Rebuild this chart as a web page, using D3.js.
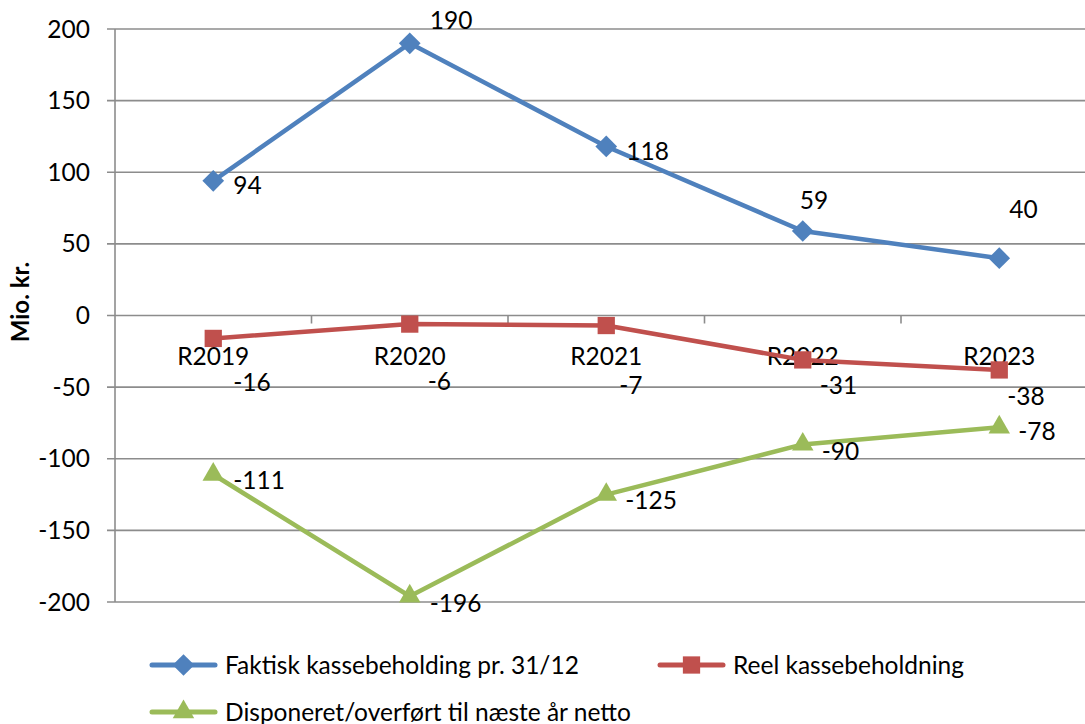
<!DOCTYPE html>
<html>
<head>
<meta charset="utf-8">
<script src="https://cdn.jsdelivr.net/npm/d3@7"></script>
<style>
  body { margin: 0; background: #fff; }
  svg { display: block; font-family: Lato, "Open Sans", sans-serif; }
</style>
</head>
<body>
<div class="container"></div>
<script>
const categories = ['R2019', 'R2020', 'R2021', 'R2022', 'R2023'];
const faktisk = [94, 190, 118, 59, 40];
const reel = [-16, -6, -7, -31, -38];
const disponeret = [-111, -196, -125, -90, -78];
const yTicks = [200, 150, 100, 50, 0, -50, -100, -150, -200];

const width = 1085,
    height = 724,
    fontSize = 24.5;

// manual label nudges, as placed in the original chart (dx to text start, dy to baseline)
const labelNudge = {
    faktisk: [[20, 13], [20, -14], [20, 14], [-3, -22], [10, -40]],
    reel: [[20, 53], [18, 66], [13, 68], [17, 34], [8, 35]],
    disponeret: [[20, 14], [20, 16], [19, 14], [19, 16], [19, 13]]
};

const series = [
    { key: 'faktisk', name: 'Faktisk kassebeholding pr. 31/12', values: faktisk, color: '#4f81bd', symbol: d3.symbolDiamond2, size: 300 },
    { key: 'reel', name: 'Reel kassebeholdning', values: reel, color: '#c0504d', symbol: d3.symbolSquare2, size: 380 },
    { key: 'disponeret', name: 'Disponeret/overført til næste år netto', values: disponeret, color: '#9bbb59', symbol: d3.symbolTriangle2, size: 330 }
];

const x = d3.scaleBand().domain(categories).range([115, 1097.5]);
const y = d3.scaleLinear().domain([-200, 200]).range([602, 29]);
const cx = d => x(d) + x.bandwidth() / 2;

const svg = d3.select('.container')
    .append('svg')
    .attr('width', width)
    .attr('height', height);

// horizontal gridlines
svg.append('g')
    .selectAll('line')
    .data(yTicks)
    .enter()
    .append('line')
    .attr('x1', 107)
    .attr('x2', width)
    .attr('y1', d => y(d))
    .attr('y2', d => y(d))
    .attr('stroke', '#8c8c8c')
    .attr('stroke-width', 1.6);

// y axis line
svg.append('line')
    .attr('x1', 115).attr('x2', 115)
    .attr('y1', y(200)).attr('y2', y(-200))
    .attr('stroke', '#8c8c8c')
    .attr('stroke-width', 1.6);

// y tick labels
svg.append('g')
    .selectAll('text')
    .data(yTicks)
    .enter()
    .append('text')
    .attr('x', 90)
    .attr('y', d => y(d) + 8.5)
    .attr('text-anchor', 'end')
    .attr('font-size', fontSize)
    .attr('fill', '#000')
    .text(d => d);

// x tick marks at category boundaries on the zero line
svg.append('g')
    .selectAll('line')
    .data(categories.slice(1))
    .enter()
    .append('line')
    .attr('x1', d => x(d)).attr('x2', d => x(d))
    .attr('y1', y(0)).attr('y2', y(0) + 8)
    .attr('stroke', '#8c8c8c')
    .attr('stroke-width', 1.6);

// category labels
svg.append('g')
    .selectAll('text')
    .data(categories)
    .enter()
    .append('text')
    .attr('x', d => cx(d))
    .attr('y', 365)
    .attr('text-anchor', 'middle')
    .attr('font-size', fontSize)
    .text(d => d);

// y axis title
svg.append('text')
    .attr('transform', 'translate(29, 302) rotate(-90)')
    .attr('text-anchor', 'middle')
    .attr('font-size', 24)
    .attr('font-weight', 'bold')
    .text('Mio. kr.');

const line = d3.line()
    .x((d, i) => cx(categories[i]))
    .y(d => y(d));

series.forEach(s => {
    const g = svg.append('g');

    g.append('path')
        .datum(s.values)
        .attr('d', line)
        .attr('fill', 'none')
        .attr('stroke', s.color)
        .attr('stroke-width', 4.5)
        .attr('stroke-linejoin', 'round');

    g.selectAll('path.marker')
        .data(s.values)
        .enter()
        .append('path')
        .attr('class', 'marker')
        .attr('transform', (d, i) => `translate(${cx(categories[i])}, ${y(d)})`)
        .attr('d', d3.symbol().type(s.symbol).size(s.size))
        .attr('fill', s.color);

    g.selectAll('text')
        .data(s.values)
        .enter()
        .append('text')
        .attr('x', (d, i) => cx(categories[i]) + labelNudge[s.key][i][0])
        .attr('y', (d, i) => y(d) + labelNudge[s.key][i][1])
        .attr('font-size', fontSize)
        .text(d => d);
});

// legend
const legendPos = [[152, 665], [660, 665], [152, 712]];
series.forEach((s, i) => {
    const [lx, ly] = legendPos[i];
    const g = svg.append('g').attr('transform', `translate(${lx}, ${ly})`);
    g.append('line')
        .attr('x1', 0).attr('x2', 63)
        .attr('y1', 0).attr('y2', 0)
        .attr('stroke', s.color)
        .attr('stroke-width', 5)
        .attr('stroke-linecap', 'round');
    g.append('path')
        .attr('transform', 'translate(31.5, 0)')
        .attr('d', d3.symbol().type(s.symbol).size(s.size))
        .attr('fill', s.color);
    g.append('text')
        .attr('x', 73)
        .attr('y', 8.5)
        .attr('font-size', fontSize)
        .text(s.name);
});
</script>
</body>
</html>
